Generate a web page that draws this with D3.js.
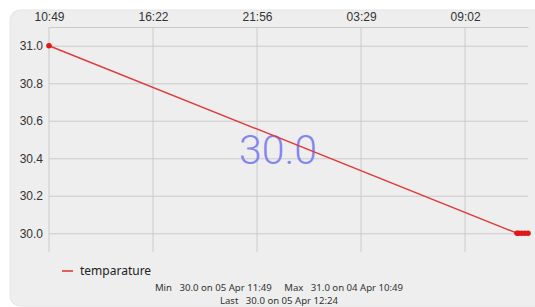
<!DOCTYPE html>
<html><head><meta charset="utf-8">
<script src="https://cdn.jsdelivr.net/npm/d3@7"></script>
<style>
html,body{margin:0;padding:0;background:#fff;overflow:hidden;}
svg{display:block;font-family:"Noto Sans",sans-serif;}
</style></head>
<body>
<svg id="c" width="535" height="307"></svg>
<script>
// ---- data ----
const seriesName = "temparature";
const times = ["2024-04-04T10:49","2024-04-05T11:49","2024-04-05T11:54","2024-04-05T12:04","2024-04-05T12:14","2024-04-05T12:24"];
const values = [31.0, 30.0, 30.0, 30.0, 30.0, 30.0];
const xTickTimes = ["2024-04-04T10:49:00","2024-04-04T16:22:20","2024-04-04T21:55:40","2024-04-05T03:29:00","2024-04-05T09:02:20"];
const xTickLabels = ["10:49","16:22","21:56","03:29","09:02"];
const yTicks = [30.0, 30.2, 30.4, 30.6, 30.8, 31.0];
const currentValue = "30.0";
const statsLine1 = "Min   30.0 on 05 Apr 11:49     Max   31.0 on 04 Apr 10:49";
const statsLine2 = "Last   30.0 on 05 Apr 12:24";

const parse = d3.isoParse;
const data = times.map((t,i)=>({t:parse(t), v:values[i]}));

const svg = d3.select("#c");
svg.append("rect").attr("x",10).attr("y",10).attr("width",560).attr("height",296)
  .attr("rx",10).attr("fill","#eeeeee").attr("stroke","#e4e4e4");

const L=49, R=528, T=27, B=252;
const x = d3.scaleTime().domain([data[0].t, data[data.length-1].t]).range([L,R]);
const y = d3.scaleLinear().domain([29.9,31.1]).range([B,T]);
const grid = "#cbcbcb";

const g = svg.append("g");
const xt = xTickTimes.map(parse);
g.append("g").attr("transform",`translate(0,${T})`)
  .call(d3.axisTop(x).tickValues(xt).tickFormat((d,i)=>xTickLabels[i]).tickSize(0).tickPadding(6))
  .call(a=>{a.select(".domain").attr("stroke",grid).attr("stroke-width",1);
    a.selectAll("text").attr("font-size",12).attr("fill","#333");});
g.append("g").selectAll("line").data(xt).join("line")
  .attr("x1",d=>x(d)).attr("x2",d=>x(d)).attr("y1",T).attr("y2",B)
  .attr("stroke",grid).attr("stroke-width",1);
g.append("g").attr("transform",`translate(${L},0)`)
  .call(d3.axisLeft(y).tickValues(yTicks).tickFormat(d3.format(".1f")).tickSize(-(R-L)).tickPadding(6))
  .call(a=>{a.select(".domain").remove();
    a.selectAll("line").attr("stroke",grid).attr("stroke-width",1);
    a.selectAll("text").attr("font-size",12).attr("fill","#333");});

// big current value
svg.append("text").attr("x",278).attr("y",164).attr("text-anchor","middle")
  .attr("font-family","Roboto, 'Noto Sans', sans-serif").attr("font-weight",300)
  .attr("font-size",41).attr("fill","#8585f0").text(currentValue);

// line
svg.append("path").datum(data)
  .attr("d",d3.line().x(d=>x(d.t)).y(d=>y(d.v)))
  .attr("fill","none").attr("stroke","#dc3b3b").attr("stroke-width",1.4);
svg.append("g").selectAll("circle").data(data).join("circle")
  .attr("cx",d=>x(d.t)).attr("cy",d=>y(d.v)).attr("r",2.8).attr("fill","#e01818");

// legend
svg.append("line").attr("x1",62).attr("x2",73).attr("y1",271).attr("y2",271)
  .attr("stroke","#dc3b3b").attr("stroke-width",1.6);
svg.append("text").attr("x",80).attr("y",275).attr("font-size",12).attr("fill","#222").text(seriesName);

// stats
svg.append("text").attr("x",279).attr("y",291).attr("text-anchor","middle")
  .attr("font-size",9.6).attr("fill","#333").style("white-space","pre").text(statsLine1);
svg.append("text").attr("x",279).attr("y",303.5).attr("text-anchor","middle")
  .attr("font-size",9.6).attr("fill","#333").style("white-space","pre").text(statsLine2);
</script>
</body></html>
